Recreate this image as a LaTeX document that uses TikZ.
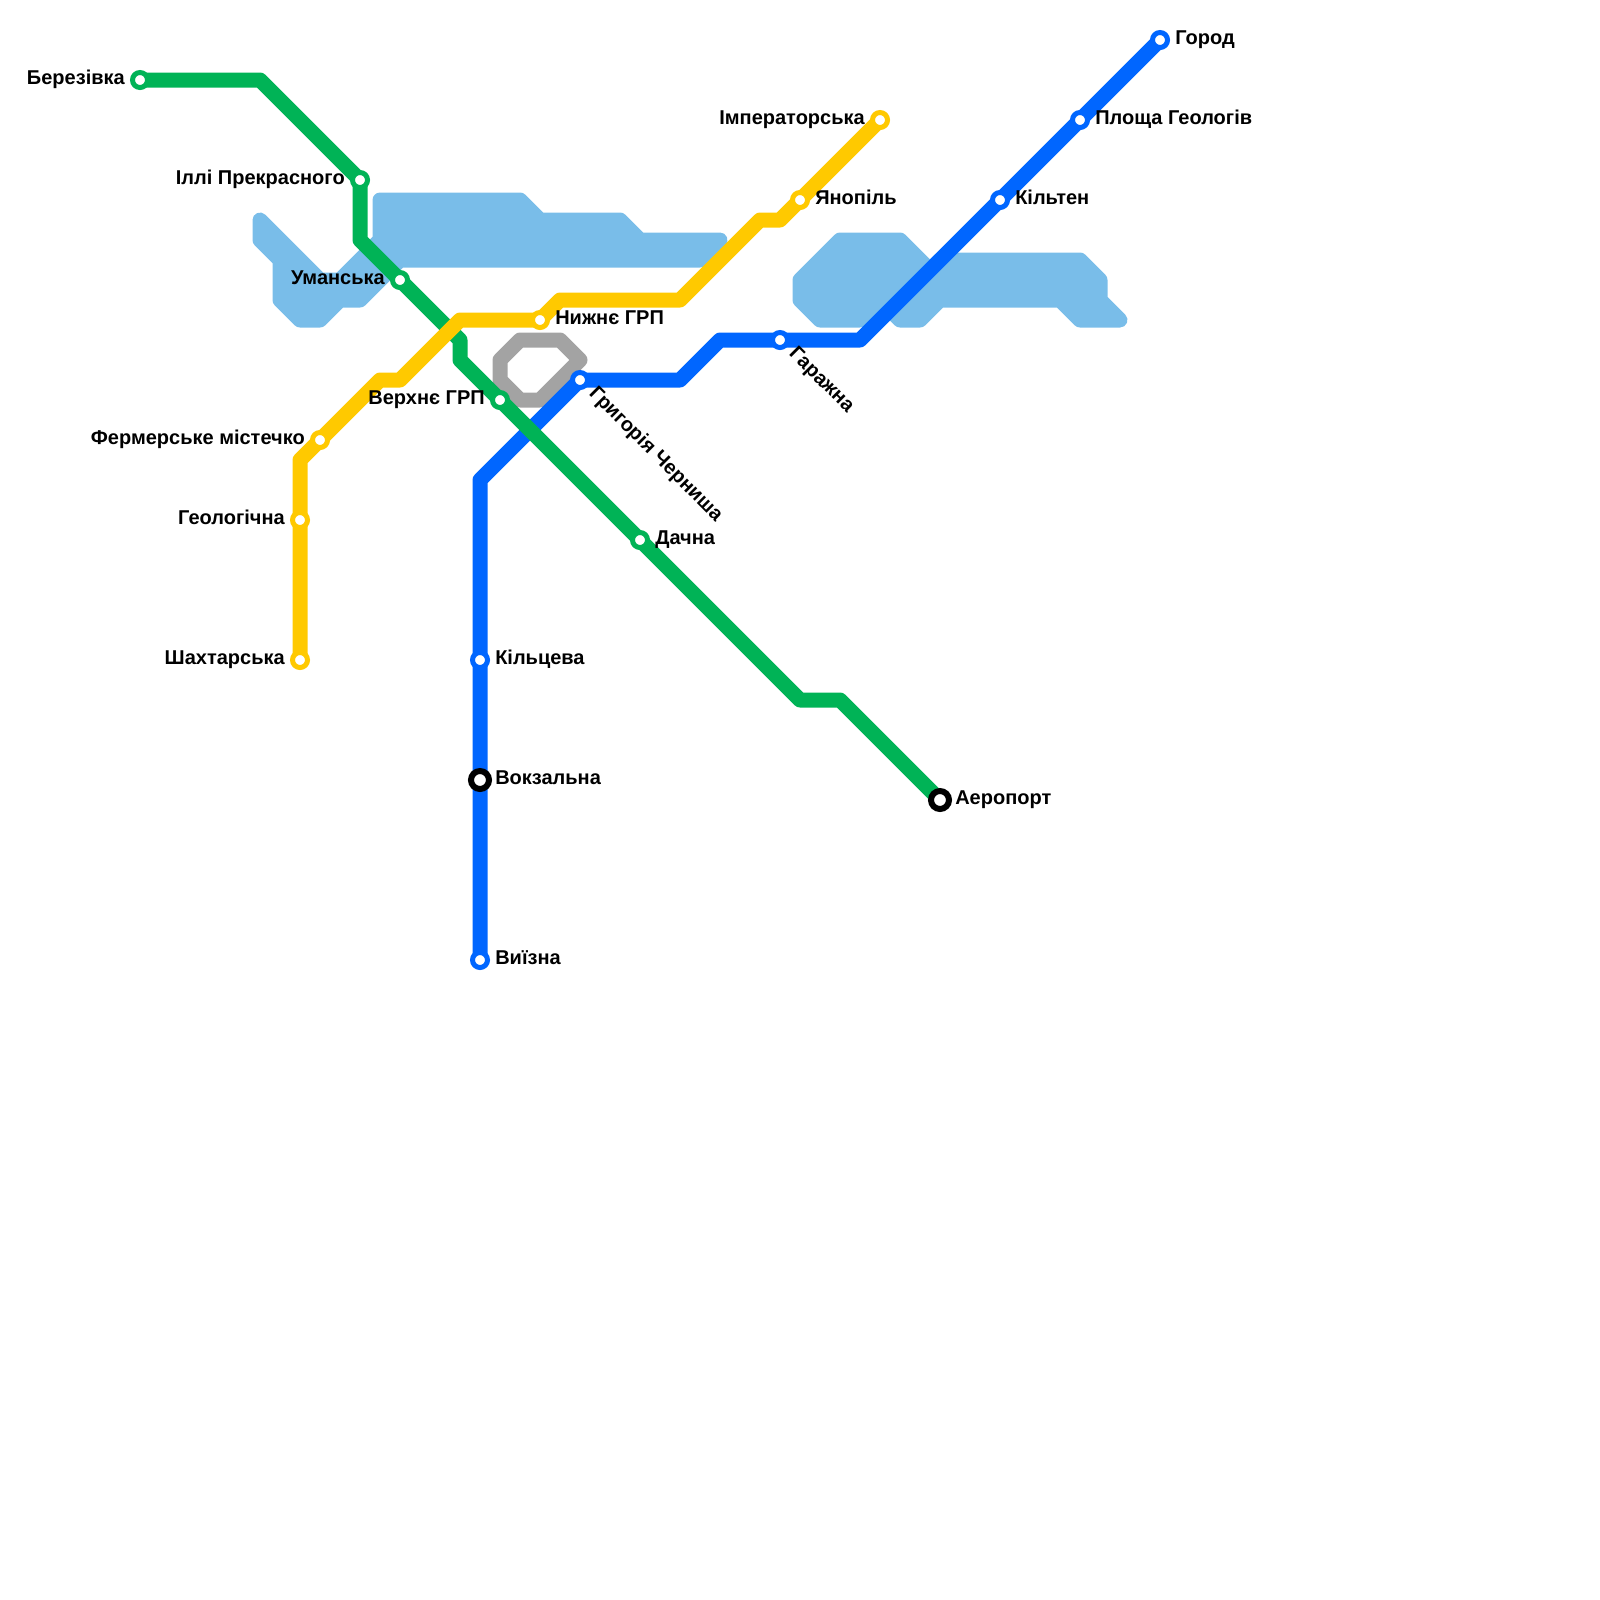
\documentclass[tikz,border=0pt]{standalone}
\usepackage{fontspec}
\setmainfont{Liberation Sans}
\usetikzlibrary{backgrounds}
\definecolor{linegreen}{RGB}{0,179,86}
\definecolor{lineyellow}{RGB}{255,201,0}
\definecolor{lineblue}{RGB}{0,102,255}
\definecolor{linegrey}{RGB}{163,163,163}
\definecolor{waterblue}{RGB}{121,189,233}
\tikzset{
  metro/.style={line width=11.25pt, line join=round, line cap=round},
  water/.style={draw=waterblue, fill=waterblue, line width=11.25pt, line join=round},
  stn/.style={circle, draw=#1, fill=white, line width=3.75pt, minimum size=11.25pt, inner sep=0pt, outer sep=0pt},
  hub/.style={circle, draw=black, fill=white, line width=4.5pt, minimum size=13.5pt, inner sep=0pt, outer sep=0pt},
  lbl/.style={font=\fontsize{15}{17}\selectfont\bfseries, text=black, inner sep=0pt, text height=9pt, text depth=2.2pt},
  lblr/.style={lbl, anchor=west, xshift=11.25pt},
  lbll/.style={lbl, anchor=east, xshift=-11.25pt},
  lbld/.style={lbl, xshift=8.5pt, yshift=-8.5pt, anchor=west, rotate=-45},
}
\begin{document}
\begin{tikzpicture}[x=15pt,y=-15pt]
  \useasboundingbox (0,0) rectangle (80,80);
  % green stations
  \node[stn=linegreen] (berezivka) at (7,4) {};
  \node[stn=linegreen] (illi) at (18,9) {};
  \node[stn=linegreen] (umanska) at (20,14) {};
  \node[stn=linegreen] (verkhne) at (25,20) {};
  \node[stn=linegreen] (dachna) at (32,27) {};
  \node[hub] (aeroport) at (47,40) {};
  % yellow stations
  \node[stn=lineyellow] (shakhtarska) at (15,33) {};
  \node[stn=lineyellow] (heolohichna) at (15,26) {};
  \node[stn=lineyellow] (fermerske) at (16,22) {};
  \node[stn=lineyellow] (nyzhne) at (27,16) {};
  \node[stn=lineyellow] (yanopil) at (40,10) {};
  \node[stn=lineyellow] (imperatorska) at (44,6) {};
  % blue stations
  \node[stn=lineblue] (vyizna) at (24,48) {};
  \node[hub] (vokzalna) at (24,39) {};
  \node[stn=lineblue] (kiltseva) at (24,33) {};
  \node[stn=lineblue] (hryhoriia) at (29,19) {};
  \node[stn=lineblue] (garazhna) at (39,17) {};
  \node[stn=lineblue] (kilten) at (50,10) {};
  \node[stn=lineblue] (ploshcha) at (54,6) {};
  \node[stn=lineblue] (gorod) at (58,2) {};
  % bends
  \coordinate (g1) at (13,4);
  \coordinate (g2) at (18,12);
  \coordinate (g3) at (23,17);
  \coordinate (g4) at (23,18);
  \coordinate (g5) at (40,35);
  \coordinate (g6) at (42,35);
  \coordinate (y1) at (15,23);
  \coordinate (y2) at (19,19);
  \coordinate (y3) at (20,19);
  \coordinate (y4) at (23,16);
  \coordinate (y5) at (28,15);
  \coordinate (y6) at (34,15);
  \coordinate (y7) at (38,11);
  \coordinate (y8) at (39,11);
  \coordinate (b1) at (24,24);
  \coordinate (b2) at (34,19);
  \coordinate (b3) at (36,17);
  \coordinate (b4) at (43,17);
  % labels
  \node[lbll] (berezivkalbl) at (berezivka) {Березівка};
  \node[lbll] (illilbl) at (illi) {Іллі Прекрасного};
  \node[lbll] (umanskalbl) at (umanska) {Уманська};
  \node[lbll] (verkhnelbl) at (verkhne) {Верхнє ГРП};
  \node[lblr] (dachnalbl) at (dachna) {Дачна};
  \node[lblr] (aeroportlbl) at (aeroport) {Аеропорт};
  \node[lbll] (shakhtarskalbl) at (shakhtarska) {Шахтарська};
  \node[lbll] (heolohichnalbl) at (heolohichna) {Геологічна};
  \node[lbll] (fermerskelbl) at (fermerske) {Фермерське містечко};
  \node[lblr] (nyzhnelbl) at (nyzhne) {Нижнє ГРП};
  \node[lblr] (yanopillbl) at (yanopil) {Янопіль};
  \node[lbll] (imperatorskalbl) at (imperatorska) {Імператорська};
  \node[lblr] (vyiznalbl) at (vyizna) {Виїзна};
  \node[lblr] (vokzalnalbl) at (vokzalna) {Вокзальна};
  \node[lblr] (kiltsevalbl) at (kiltseva) {Кільцева};
  \node[lbld] (hryhoriialbl) at (hryhoriia) {Григорія Черниша};
  \node[lbld] (garazhnalbl) at (garazhna) {Гаражна};
  \node[lblr] (kiltenlbl) at (kilten) {Кільтен};
  \node[lblr] (ploshchalbl) at (ploshcha) {Площа Геологів};
  \node[lblr] (gorodlbl) at (gorod) {Город};
  % lines go under the stations
  \begin{scope}[on background layer]
    \draw[water] (13,11) -- (16,14) -- (17,14) -- (19,12) -- (19,10) -- (26,10) -- (27,11) -- (31,11) -- (32,12) -- (36,12) -- (35,13) -- (20,13) -- (18,15) -- (17,15) -- (16,16) -- (15,16) -- (14,15) -- (14,13) -- (13,12) -- cycle;
    \draw[water] (40,14) -- (42,12) -- (45,12) -- (46.5,13.5) -- (47,13) -- (54,13) -- (55,14) -- (55,15) -- (56,16) -- (54,16) -- (53,15) -- (47,15) -- (46,16) -- (45,16) -- (44,15) -- (43,16) -- (41,16) -- (40,15) -- cycle;
    \draw[metro, draw=linegrey] (25,18) -- (26,17) -- (28,17) -- (29,18) -- (27,20) -- (26,20) -- (25,19) -- cycle;
    \draw[metro, draw=lineblue] (vyizna.center) -- (vokzalna.center) -- (kiltseva.center) -- (b1) -- (hryhoriia.center) -- (b2) -- (b3) -- (garazhna.center) -- (b4) -- (kilten.center) -- (ploshcha.center) -- (gorod.center);
    \draw[metro, draw=linegreen] (berezivka.center) -- (g1) -- (illi.center) -- (g2) -- (umanska.center) -- (g3) -- (g4) -- (verkhne.center) -- (dachna.center) -- (g5) -- (g6) -- (aeroport.center);
    \draw[metro, draw=lineyellow] (shakhtarska.center) -- (heolohichna.center) -- (y1) -- (fermerske.center) -- (y2) -- (y3) -- (y4) -- (nyzhne.center) -- (y5) -- (y6) -- (y7) -- (y8) -- (yanopil.center) -- (imperatorska.center);
  \end{scope}
\end{tikzpicture}
\end{document}
